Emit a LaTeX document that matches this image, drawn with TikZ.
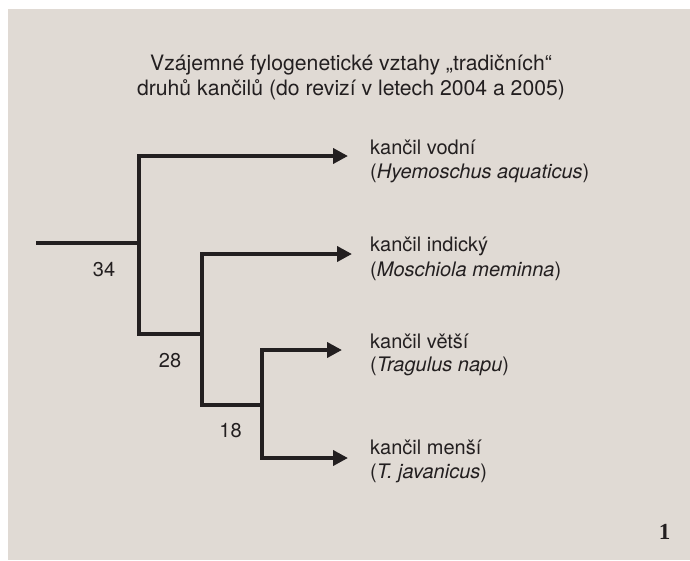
\documentclass[tikz,border=0pt]{standalone}
\usepackage{fontspec}
\setmainfont{TeX Gyre Heros}
\newfontfamily\numfont{Liberation Serif}
\usetikzlibrary{arrows.meta}
\definecolor{bg}{HTML}{E0DAD4}
\definecolor{ink}{HTML}{231F20}
\begin{document}
\begin{tikzpicture}[x=1pt,y=-1pt,
  br/.style={draw=ink, line width=4.2pt},
  tipped/.style={br, -{Triangle[length=15pt,width=15pt]}},
  ttl/.style={anchor=base, font=\fontsize{21.2}{25}\selectfont, text=ink, inner sep=0pt},
  lbl/.style={anchor=base west, font=\fontsize{20}{24}\selectfont, text=ink, inner sep=0pt},
  num/.style={anchor=base, font=\fontsize{20}{24}\selectfont, text=ink, inner sep=0pt}]
\useasboundingbox (0,0) rectangle (690,560);
\fill[white] (0,0) rectangle (690,560);
\fill[bg] (8,9) rectangle (690,560);
% title
\node[ttl] (title1) at (351,70) {Vzájemné fylogenetické vztahy „tradičních“};
\node[ttl] (title2) at (351,95) {druhů kančilů (do revizí v letech 2004 a 2005)};
% tree points
\coordinate (r) at (36,243);
\coordinate (j1) at (139,243);
\coordinate (j2) at (202,334);
\coordinate (j3) at (262,405);
\coordinate (t1) at (348,156);
\coordinate (t2) at (352,254);
\coordinate (t3) at (342,350);
\coordinate (t4) at (348,458);
% branches
\draw[br] (r) -- (j1);
\draw[tipped] (j1) |- (t1);
\draw[br] (j1) |- (j2);
\draw[tipped] (j2) |- (t2);
\draw[br] (j2) |- (j3);
\draw[tipped] (j3) |- (t3);
\draw[tipped] (j3) |- (t4);
% species labels
\node[lbl] (n1a) at (370,154) {kančil vodní};
\node[lbl] (n1b) at (370,178) {(\textit{Hyemoschus aquaticus})};
\node[lbl] (n2a) at (370,251) {kančil indický};
\node[lbl] (n2b) at (370,276) {(\textit{Moschiola meminna})};
\node[lbl] (n3a) at (370,348) {kančil větší};
\node[lbl] (n3b) at (370,371) {(\textit{Tragulus napu})};
\node[lbl] (n4a) at (370,454) {kančil menší};
\node[lbl] (n4b) at (370,478) {(\textit{T. javanicus})};
% branch ages
\node[num] (b34) at (104,276.7) {34};
\node[num] (b28) at (170,367.3) {28};
\node[num] (b18) at (230.5,437) {18};
% page number
\node[anchor=base, inner sep=0pt, text=ink, font=\numfont\bfseries\fontsize{23}{28}\selectfont] (pg) at (664.5,539) {1};
\end{tikzpicture}
\end{document}
